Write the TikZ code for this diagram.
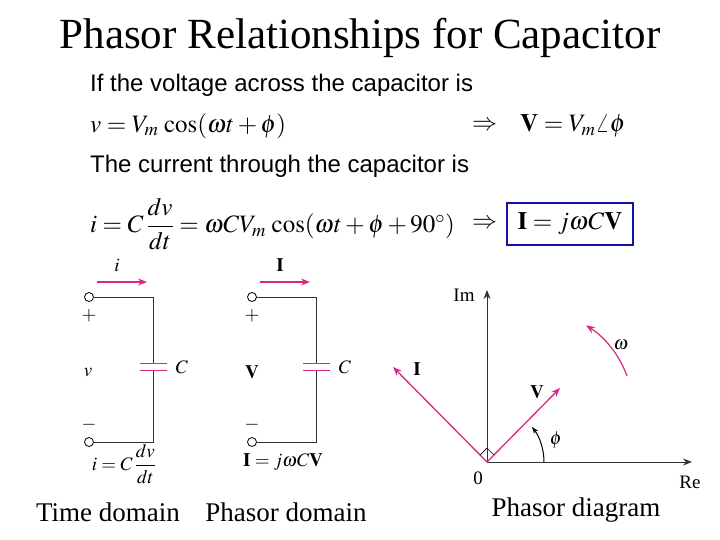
\documentclass[tikz,border=0pt]{standalone}
\usepackage{amsmath}
\usepackage{mathptmx}
\usepackage{fontspec}
\setmainfont{Liberation Serif}
\newfontfamily\arial{Liberation Sans}
\usetikzlibrary{arrows.meta}
\definecolor{mag}{RGB}{214,40,130}
\definecolor{bx}{RGB}{20,20,170}
\tikzset{
  wire/.style={draw=black!80,line width=0.8pt},
  term/.style={circle,draw=black,line width=0.8pt,fill=white,inner sep=0pt,minimum size=9pt},
  parr/.style={draw=mag,line width=1.3pt,-{Stealth[length=9pt,width=7pt]}},
  plate/.style={draw=mag,line width=1pt},
  lbl/.style={font=\fontsize{19}{21}\selectfont},
  eq/.style={font=\fontsize{25}{28}\selectfont,anchor=west,inner sep=0pt},
  txt/.style={font=\arial\fontsize{24}{27}\selectfont,anchor=west,inner sep=0pt},
  captxt/.style={font=\fontsize{27}{30}\selectfont},
}
\begin{document}
\begin{tikzpicture}[x=1pt,y=-1pt]
\useasboundingbox (0,0) rectangle (720,540);
\node[font=\fontsize{43}{48}\selectfont] (title) at (360,38) {Phasor Relationships for Capacitor};
\node[txt] (t1) at (90,85) {If the voltage across the capacitor is};
\node[eq] (e1) at (90,126) {$v = V_m\,\cos(\omega t+\phi)$};
\node[eq] (a1) at (472,126) {$\Rightarrow$};
\node[eq] (e2) at (520,126) {$\mathbf{V}=V_m\angle\phi$};
\node[txt] (t2) at (90,166) {The current through the capacitor is};
\node[eq] (e3) at (90,224) {$i = C\,\dfrac{dv}{dt}=\omega C V_m\,\cos(\omega t+\phi+90^\circ)$};
\node[eq] (a2) at (472,224) {$\Rightarrow$};
\node[draw=bx,line width=1.5pt,minimum width=126pt,minimum height=42pt] (box) at (570,224) {};
\node[font=\fontsize{25}{28}\selectfont] (e4) at (570,224) {$\mathbf{I}=j\omega C\mathbf{V}$};
% circuit 1
\node[term] (a) at (89,297) {};
\node[term] (b) at (89,442) {};
\coordinate (tr) at (153,297); \coordinate (br) at (153,442);
\coordinate (p1) at (153,363); \coordinate (p2) at (153,370);
\draw[wire] (a) -- (tr) -- (p1); \draw[wire] (p2) -- (br) -- (b);
\draw[plate] (140,363) -- (167,363); \draw[plate] (140,370) -- (167,370);
\coordinate (ia) at (97,282); \coordinate (ib) at (147,282);
\draw[parr] (ia) -- (ib);
\node[lbl] (li) at (117,265) {$i$};
\node[lbl] (lp) at (89,316) {$+$};
\node[lbl] (lv) at (88,373) {$v$};
\node[lbl] (lm) at (89,425) {$-$};
\node[lbl] (lc) at (182,367) {$C$};
\node[lbl] (f1) at (124,464) {$i=C\,\dfrac{dv}{dt}$};
% circuit 2
\node[term] (c) at (252,297) {};
\node[term] (d) at (252,442) {};
\coordinate (tr2) at (316,297); \coordinate (br2) at (316,442);
\coordinate (q1) at (316,363); \coordinate (q2) at (316,370);
\draw[wire] (c) -- (tr2) -- (q1); \draw[wire] (q2) -- (br2) -- (d);
\draw[plate] (303,363) -- (330,363); \draw[plate] (303,370) -- (330,370);
\coordinate (ja) at (260,282); \coordinate (jb) at (310,282);
\draw[parr] (ja) -- (jb);
\node[lbl] (lI) at (280,265) {$\mathbf{I}$};
\node[lbl] (lp2) at (252,316) {$+$};
\node[lbl] (lV) at (252,372) {$\mathbf{V}$};
\node[lbl] (lm2) at (252,425) {$-$};
\node[lbl] (lc2) at (345,367) {$C$};
\node[lbl] (f2) at (283,462) {$\mathbf{I}=j\omega C\mathbf{V}$};
% phasor diagram
\coordinate (O) at (487,462);
\coordinate (imt) at (487,290);
\coordinate (ret) at (692,462);
\draw[wire,-{Stealth[length=9pt,width=7pt]}] (O) -- (imt);
\draw[wire,-{Stealth[length=9pt,width=7pt]}] (O) -- (ret);
\coordinate (It) at (393,367); \coordinate (Vt) at (560,388);
\draw[parr] (O) -- (It);
\draw[parr] (O) -- (Vt);
\draw[black,line width=0.7pt] (480,455) -- (487,448) -- (494,455);
\draw[black,line width=1pt,-{Stealth[length=7pt,width=5pt]}] (544,462) arc[start angle=0,end angle=-38,radius=57];
\draw[mag,line width=1.2pt,-{Stealth[length=9pt,width=7pt]}] (627,376) arc[start angle=-20,end angle=-58,radius=100];
\node[lbl] (lIm) at (464,295) {Im};
\node[lbl] (lRe) at (690,482) {Re};
\node[lbl] (l0) at (478,478) {0};
\node[lbl] (lII) at (417,369) {$\mathbf{I}$};
\node[lbl] (lVV) at (537,392) {$\mathbf{V}$};
\node[lbl] (lphi) at (556,440) {$\phi$};
\node[lbl] (lw) at (621,345) {$\omega$};
\node[captxt] (c1) at (108,512) {Time domain};
\node[captxt] (c2) at (286,512) {Phasor domain};
\node[captxt] (c3) at (576,510) {Phasor diagram};
\end{tikzpicture}
\end{document}
